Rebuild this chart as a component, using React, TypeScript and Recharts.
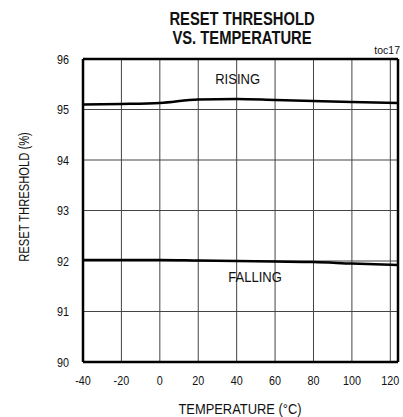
import {
  CartesianGrid,
  Line,
  LineChart,
  ReferenceDot,
  ReferenceLine,
  XAxis,
  YAxis,
} from "recharts";

const temperatures = [-40, -20, 0, 20, 40, 60, 80, 100, 124];
const rising = [95.1, 95.11, 95.13, 95.2, 95.21, 95.19, 95.17, 95.15, 95.13];
const falling = [92.02, 92.02, 92.02, 92.01, 92.0, 91.99, 91.98, 91.95, 91.92];

const xTicks = [-40, -20, 0, 20, 40, 60, 80, 100, 120];
const yTicks = [90, 91, 92, 93, 94, 95, 96];

const data = temperatures.map((t, i) => ({ temp: t, rising: rising[i], falling: falling[i] }));

// Arial Narrow look: regular sans squeezed horizontally
const FONT = "'Liberation Sans', Arial, sans-serif";
const SQUEEZE = 0.8;

function AxisTick({ x, y, payload, textAnchor, isY }: any) {
  return (
    <text
      x={0}
      y={0}
      transform={`translate(${x},${y}) scale(${SQUEEZE},1)`}
      textAnchor={textAnchor}
      dy={isY ? "0.36em" : "0.71em"}
      fontSize={13.5}
      fill="#111"
      fontFamily={FONT}
    >
      {payload.value}
    </text>
  );
}

function curveLabel(text: string) {
  return (props: any) => (
    <text
      x={0}
      y={0}
      transform={`translate(${props.cx},${props.cy}) scale(0.84,1)`}
      textAnchor="middle"
      dy="0.36em"
      fontSize={15.5}
      fill="#111"
      fontFamily={FONT}
    >
      {text}
    </text>
  );
}

export default function App() {
  return (
    <div style={{ position: "absolute", left: 0, top: 0, width: 403, height: 417, background: "#fff" }}>
      <div
        style={{
          position: "absolute",
          left: 242,
          top: 29,
          transform: "translate(-50%, -50%) scaleX(0.82)",
          whiteSpace: "nowrap",
          textAlign: "center",
          fontFamily: FONT,
          fontWeight: "bold",
          fontSize: 18,
          lineHeight: "19px",
          color: "#111",
        }}
      >
        RESET THRESHOLD
        <br />
        VS. TEMPERATURE
      </div>
      <div
        style={{
          position: "absolute",
          right: 3,
          top: 44,
          fontFamily: FONT,
          fontSize: 10.5,
          color: "#111",
        }}
      >
        toc17
      </div>
      <div
        style={{
          position: "absolute",
          left: 24,
          top: 197,
          transform: "translate(-50%, -50%) rotate(-90deg) scaleX(0.8)",
          whiteSpace: "nowrap",
          fontFamily: FONT,
          fontSize: 14,
          color: "#111",
        }}
      >
        RESET THRESHOLD (%)
      </div>
      <div
        style={{
          position: "absolute",
          left: 240,
          top: 408,
          transform: "translate(-50%, -50%) scaleX(0.86)",
          whiteSpace: "nowrap",
          fontFamily: FONT,
          fontSize: 15,
          color: "#111",
        }}
      >
        TEMPERATURE (°C)
      </div>
      <LineChart
        width={403}
        height={417}
        data={data}
        margin={{ top: 59, right: 5, bottom: 25, left: 43 }}
      >
        <CartesianGrid stroke="#444" strokeWidth={1} />
        <XAxis
          dataKey="temp"
          type="number"
          domain={[-40, 124]}
          ticks={xTicks}
          allowDataOverflow
          axisLine={false}
          tickLine={false}
          tickMargin={7}
          height={30}
          tick={<AxisTick />}
        />
        <YAxis
          type="number"
          domain={[90, 96]}
          ticks={yTicks}
          allowDataOverflow
          axisLine={false}
          tickLine={false}
          tickMargin={8}
          width={40}
          tick={<AxisTick isY />}
        />
        <ReferenceLine x={-40} stroke="#000" strokeWidth={2.5} />
        <ReferenceLine x={124} stroke="#000" strokeWidth={2.5} />
        <ReferenceLine y={90} stroke="#000" strokeWidth={2.5} />
        <ReferenceLine y={96} stroke="#000" strokeWidth={2.5} />
        <Line
          type="monotone"
          dataKey="rising"
          stroke="#000"
          strokeWidth={2.5}
          dot={false}
          isAnimationActive={false}
        />
        <Line
          type="monotone"
          dataKey="falling"
          stroke="#000"
          strokeWidth={2.5}
          dot={false}
          isAnimationActive={false}
        />
        <ReferenceDot x={40.5} y={95.62} r={0} shape={curveLabel("RISING")} />
        <ReferenceDot x={49.6} y={91.7} r={0} shape={curveLabel("FALLING")} />
      </LineChart>
    </div>
  );
}
